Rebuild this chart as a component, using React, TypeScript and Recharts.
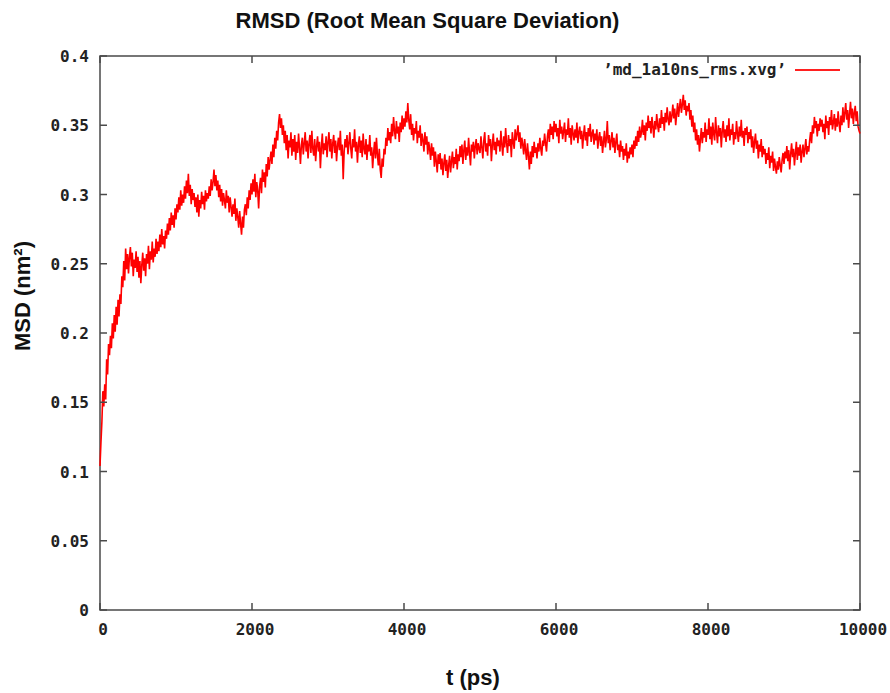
import React from 'react'
import { LineChart, Line, XAxis, YAxis, ReferenceArea } from 'recharts'

// RMSD trajectory, one sample every 12.5 ps from 0 to 10000 ps (nm)
const T_STEP = 12.5
const RMSD_VALUES = [
  0.104, 0.121, 0.136, 0.158, 0.147, 0.163, 0.152, 0.181, 0.170, 0.192, 0.184, 0.198, 0.189, 0.207, 0.196, 0.213, 0.201, 0.219, 0.206, 0.224,
  0.212, 0.228, 0.221, 0.241, 0.233, 0.252, 0.238, 0.261, 0.246, 0.257, 0.243, 0.255, 0.262, 0.248, 0.258, 0.241, 0.253, 0.247, 0.259, 0.244,
  0.255, 0.240, 0.252, 0.236, 0.249, 0.258, 0.245, 0.254, 0.241, 0.257, 0.250, 0.263, 0.246, 0.259, 0.253, 0.266, 0.251, 0.261, 0.255, 0.268,
  0.257, 0.266, 0.259, 0.271, 0.262, 0.275, 0.264, 0.270, 0.261, 0.274, 0.268, 0.279, 0.271, 0.283, 0.274, 0.287, 0.278, 0.285, 0.276, 0.290,
  0.282, 0.293, 0.287, 0.298, 0.289, 0.303, 0.292, 0.300, 0.294, 0.306, 0.297, 0.310, 0.301, 0.315, 0.299, 0.307, 0.293, 0.304, 0.296, 0.301,
  0.291, 0.298, 0.287, 0.300, 0.284, 0.296, 0.290, 0.302, 0.293, 0.299, 0.289, 0.303, 0.295, 0.301, 0.297, 0.306, 0.299, 0.311, 0.303, 0.309,
  0.318, 0.306, 0.314, 0.303, 0.310, 0.298, 0.307, 0.295, 0.304, 0.292, 0.301, 0.296, 0.290, 0.303, 0.294, 0.299, 0.287, 0.298, 0.291, 0.284,
  0.293, 0.286, 0.297, 0.281, 0.290, 0.284, 0.276, 0.288, 0.279, 0.271, 0.284, 0.276, 0.289, 0.293, 0.285, 0.298, 0.290, 0.303, 0.296, 0.308,
  0.300, 0.311, 0.302, 0.315, 0.298, 0.309, 0.303, 0.290, 0.306, 0.312, 0.301, 0.318, 0.309, 0.316, 0.305, 0.322, 0.313, 0.327, 0.318, 0.325,
  0.331, 0.322, 0.336, 0.327, 0.341, 0.333, 0.346, 0.339, 0.352, 0.358, 0.348, 0.355, 0.343, 0.350, 0.337, 0.346, 0.332, 0.343, 0.326, 0.339,
  0.334, 0.345, 0.328, 0.340, 0.331, 0.343, 0.325, 0.338, 0.330, 0.344, 0.334, 0.322, 0.336, 0.341, 0.329, 0.337, 0.345, 0.331, 0.339, 0.326,
  0.337, 0.343, 0.330, 0.346, 0.333, 0.328, 0.340, 0.324, 0.335, 0.342, 0.331, 0.338, 0.319, 0.334, 0.344, 0.329, 0.337, 0.332, 0.342, 0.327,
  0.338, 0.345, 0.331, 0.340, 0.326, 0.337, 0.343, 0.330, 0.339, 0.324, 0.335, 0.341, 0.332, 0.346, 0.328, 0.336, 0.311, 0.331, 0.340, 0.334,
  0.343, 0.329, 0.337, 0.345, 0.333, 0.326, 0.340, 0.334, 0.347, 0.331, 0.338, 0.323, 0.336, 0.342, 0.330, 0.339, 0.327, 0.344, 0.333, 0.329,
  0.340, 0.325, 0.336, 0.331, 0.343, 0.328, 0.334, 0.319, 0.330, 0.338, 0.326, 0.341, 0.329, 0.321, 0.333, 0.318, 0.312, 0.326, 0.320, 0.333,
  0.329, 0.341, 0.335, 0.348, 0.339, 0.345, 0.337, 0.351, 0.342, 0.356, 0.346, 0.340, 0.353, 0.344, 0.349, 0.338, 0.352, 0.345, 0.357, 0.347,
  0.355, 0.349, 0.360, 0.352, 0.366, 0.354, 0.347, 0.358, 0.343, 0.351, 0.339, 0.348, 0.344, 0.353, 0.337, 0.346, 0.341, 0.350, 0.335, 0.344,
  0.339, 0.331, 0.345, 0.336, 0.342, 0.329, 0.338, 0.333, 0.325, 0.337, 0.328, 0.334, 0.320, 0.331, 0.324, 0.316, 0.329, 0.322, 0.330, 0.318,
  0.326, 0.314, 0.323, 0.329, 0.317, 0.325, 0.312, 0.321, 0.328, 0.316, 0.324, 0.331, 0.319, 0.327, 0.322, 0.333, 0.318, 0.329, 0.324, 0.335,
  0.327, 0.336, 0.322, 0.332, 0.339, 0.325, 0.334, 0.328, 0.341, 0.330, 0.321, 0.336, 0.331, 0.338, 0.326, 0.335, 0.340, 0.329, 0.337, 0.333,
  0.330, 0.342, 0.334, 0.326, 0.339, 0.345, 0.331, 0.337, 0.328, 0.343, 0.335, 0.340, 0.324, 0.336, 0.344, 0.332, 0.338, 0.329, 0.341, 0.335,
  0.339, 0.331, 0.346, 0.336, 0.328, 0.342, 0.334, 0.348, 0.337, 0.330, 0.343, 0.335, 0.340, 0.327, 0.345, 0.338, 0.333, 0.347, 0.339, 0.344,
  0.350, 0.338, 0.345, 0.333, 0.341, 0.336, 0.329, 0.340, 0.332, 0.325, 0.337, 0.328, 0.318, 0.331, 0.322, 0.335, 0.327, 0.338, 0.330, 0.334,
  0.326, 0.337, 0.331, 0.341, 0.333, 0.328, 0.339, 0.335, 0.344, 0.337, 0.331, 0.342, 0.347, 0.338, 0.351, 0.343, 0.349, 0.340, 0.353, 0.345,
  0.351, 0.342, 0.348, 0.337, 0.354, 0.344, 0.349, 0.340, 0.346, 0.352, 0.338, 0.347, 0.343, 0.355, 0.341, 0.348, 0.336, 0.350, 0.344, 0.339,
  0.347, 0.341, 0.352, 0.337, 0.345, 0.349, 0.340, 0.346, 0.333, 0.343, 0.350, 0.339, 0.345, 0.335, 0.348, 0.342, 0.351, 0.338, 0.344, 0.347,
  0.336, 0.344, 0.339, 0.347, 0.333, 0.341, 0.345, 0.335, 0.342, 0.330, 0.338, 0.346, 0.334, 0.340, 0.353, 0.337, 0.343, 0.332, 0.339, 0.345,
  0.334, 0.341, 0.330, 0.338, 0.344, 0.332, 0.336, 0.327, 0.339, 0.331, 0.335, 0.325, 0.333, 0.328, 0.337, 0.323, 0.331, 0.326, 0.334, 0.329,
  0.336, 0.327, 0.339, 0.333, 0.342, 0.335, 0.346, 0.338, 0.349, 0.341, 0.345, 0.354, 0.343, 0.350, 0.339, 0.352, 0.346, 0.357, 0.348, 0.353,
  0.344, 0.356, 0.349, 0.341, 0.353, 0.347, 0.358, 0.350, 0.345, 0.355, 0.348, 0.361, 0.351, 0.356, 0.346, 0.359, 0.352, 0.363, 0.354, 0.350,
  0.360, 0.352, 0.357, 0.365, 0.355, 0.362, 0.350, 0.358, 0.366, 0.356, 0.363, 0.369, 0.359, 0.365, 0.372, 0.361, 0.368, 0.357, 0.364, 0.360,
  0.366, 0.354, 0.361, 0.349, 0.357, 0.345, 0.352, 0.339, 0.347, 0.336, 0.343, 0.331, 0.340, 0.348, 0.337, 0.345, 0.341, 0.352, 0.338, 0.347,
  0.343, 0.355, 0.340, 0.349, 0.336, 0.352, 0.344, 0.339, 0.356, 0.345, 0.337, 0.350, 0.342, 0.348, 0.334, 0.346, 0.353, 0.341, 0.347, 0.338,
  0.350, 0.342, 0.355, 0.339, 0.347, 0.343, 0.351, 0.336, 0.345, 0.340, 0.353, 0.344, 0.338, 0.349, 0.342, 0.354, 0.341, 0.346, 0.335, 0.348,
  0.343, 0.349, 0.337, 0.345, 0.340, 0.347, 0.334, 0.342, 0.330, 0.338, 0.344, 0.333, 0.339, 0.326, 0.336, 0.331, 0.340, 0.327, 0.335, 0.329,
  0.333, 0.322, 0.330, 0.325, 0.334, 0.319, 0.328, 0.323, 0.331, 0.317, 0.326, 0.320, 0.315, 0.324, 0.318, 0.327, 0.321, 0.316, 0.325, 0.330,
  0.322, 0.331, 0.326, 0.335, 0.324, 0.332, 0.318, 0.329, 0.337, 0.327, 0.333, 0.321, 0.330, 0.338, 0.325, 0.334, 0.328, 0.336, 0.323, 0.331,
  0.336, 0.327, 0.333, 0.340, 0.329, 0.335, 0.331, 0.339, 0.345, 0.337, 0.350, 0.344, 0.356, 0.348, 0.353, 0.342, 0.351, 0.346, 0.355, 0.349,
  0.354, 0.345, 0.351, 0.340, 0.357, 0.348, 0.353, 0.343, 0.356, 0.350, 0.361, 0.347, 0.352, 0.358, 0.346, 0.355, 0.349, 0.360, 0.351, 0.345,
  0.357, 0.350, 0.363, 0.352, 0.359, 0.366, 0.354, 0.361, 0.348, 0.358, 0.367, 0.355, 0.362, 0.351, 0.359, 0.364, 0.353, 0.360, 0.349, 0.346,
  0.344,
]
const TIME_PS = RMSD_VALUES.map((_, i) => i * T_STEP)

const X_TICKS = [0, 2000, 4000, 6000, 8000, 10000]
const Y_TICKS = [0, 0.05, 0.1, 0.15, 0.2, 0.25, 0.3, 0.35, 0.4]

const data = TIME_PS.map((t, i) => ({ t, rmsd: RMSD_VALUES[i] }))

// plot frame
const W = 890
const H = 693
const LEFT = 100
const RIGHT = 860
const TOP = 56
const BOTTOM = 610
const TICK_LEN = 7
const FRAME = '#4a4a4a'
const MONO = '"DejaVu Sans Mono", monospace'
const SANS = '"Liberation Sans", Arial, sans-serif'

const fmtY = (v: number) => String(Number(v.toFixed(2)))

// gnuplot-style ticks: inward, mirrored on the opposite side
function XTick({ x, payload }: any) {
  return (
    <g>
      <line x1={x} x2={x} y1={BOTTOM} y2={BOTTOM - TICK_LEN} stroke={FRAME} strokeWidth={1.5} />
      <line x1={x} x2={x} y1={TOP} y2={TOP + TICK_LEN} stroke={FRAME} strokeWidth={1.5} />
      <text x={x + 3} y={BOTTOM + 25} textAnchor="middle" fontFamily={MONO} fontWeight="bold" fontSize={16} fill="#222">
        {payload.value}
      </text>
    </g>
  )
}

function YTick({ y, payload }: any) {
  return (
    <g>
      <line x1={LEFT} x2={LEFT + TICK_LEN} y1={y} y2={y} stroke={FRAME} strokeWidth={1.5} />
      <line x1={RIGHT} x2={RIGHT - TICK_LEN} y1={y} y2={y} stroke={FRAME} strokeWidth={1.5} />
      <text x={LEFT - 11} y={y + 6} textAnchor="end" fontFamily={MONO} fontWeight="bold" fontSize={16} fill="#222">
        {fmtY(payload.value)}
      </text>
    </g>
  )
}

export default function App() {
  return (
    <div style={{ position: 'absolute', left: 0, top: 0, width: W, height: H, background: '#fff' }}>
      <div style={{ position: 'absolute', left: 0, top: 8, width: 855, textAlign: 'center', fontFamily: SANS, fontWeight: 'bold', fontSize: 22, color: '#111' }}>
        RMSD (Root Mean Square Deviation)
      </div>
      <div
        style={{
          position: 'absolute', left: 23, top: 296, transform: 'translate(-50%, -50%) rotate(-90deg)',
          whiteSpace: 'nowrap', fontFamily: SANS, fontWeight: 'bold', fontSize: 22, color: '#111',
        }}
      >
        MSD (nm²)
      </div>
      <div style={{ position: 'absolute', left: 0, top: 665, width: 946, textAlign: 'center', fontFamily: SANS, fontWeight: 'bold', fontSize: 22, color: '#111' }}>
        t (ps)
      </div>
      <div style={{ position: 'absolute', left: 603, top: 60, display: 'flex', alignItems: 'center', fontFamily: MONO, fontWeight: 'bold', fontSize: 16, color: '#222' }}>
        <span>’md_1a10ns_rms.xvg’</span>
        <span style={{ display: 'inline-block', width: 45, height: 2, background: '#ff2020', marginLeft: 9 }} />
      </div>
      <LineChart width={W} height={H} data={data} margin={{ top: TOP, right: W - RIGHT, bottom: 53, left: 40 }}>
        <XAxis
          dataKey="t" type="number" domain={[0, 10000]} ticks={X_TICKS} interval={0}
          height={30} tickSize={0} tickLine={false} axisLine={false} tick={<XTick />}
        />
        <YAxis
          type="number" domain={[0, 0.4]} ticks={Y_TICKS} interval={0}
          width={60} tickSize={0} tickLine={false} axisLine={false} tick={<YTick />}
        />
        <ReferenceArea x1={0} x2={10000} y1={0} y2={0.4} fill="none" stroke={FRAME} strokeWidth={1.5} fillOpacity={0} />
        <Line type="linear" dataKey="rmsd" stroke="#ff0000" strokeWidth={1.6} dot={false} isAnimationActive={false} />
      </LineChart>
    </div>
  )
}
